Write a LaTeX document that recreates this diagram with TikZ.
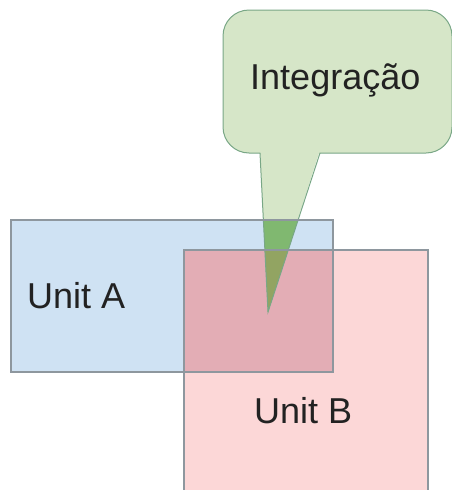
\documentclass[tikz,border=0pt]{standalone}
\usepackage{fontspec}
\setmainfont{Liberation Sans}
\definecolor{unitblue}{HTML}{CFE2F3}
\definecolor{unitpink}{HTML}{FCD7D7}
\definecolor{bothpink}{HTML}{E3ADB5}
\definecolor{bubblegreen}{HTML}{D6E6C8}
\definecolor{tailgreen}{HTML}{80B870}
\definecolor{tailolive}{HTML}{92A462}
\definecolor{edgegray}{HTML}{8E979E}
\definecolor{textgray}{HTML}{222222}
\tikzset{
  unitedge/.style={draw=edgegray, line width=1.1pt},
  unitlabel/.style={anchor=base west, inner sep=0pt, text=textgray,
    font=\fontsize{36}{40}\selectfont},
}
\begin{document}
\begin{tikzpicture}[x=1pt,y=-1pt]
	\useasboundingbox (0,0) rectangle (451,490) ;
	% filled areas
	\fill[unitblue] (11,220) rectangle (333,372) ;
	\fill[unitpink] (184,250) rectangle (428,495) ;
	\fill[bothpink] (184,250) rectangle (333,372) ;
	% speech bubble
	\fill[bubblegreen, rounded corners=26] (223,10) rectangle (452,153) ;
	\fill[bubblegreen] (260,150) -- (268,312) -- (320,150) -- cycle ;
	\begin{scope}
		\clip (268,312) -- (320,153) -- (260,153) -- cycle ;
		\fill[tailgreen] (11,220) rectangle (333,372) ;
		\fill[tailolive] (184,250) rectangle (333,372) ;
	\end{scope}
	\draw[draw=edgegray!85!green, line width=1pt]
		(260,153) -- (268,312) -- (320,153) [rounded corners=26] -- (452,153)
		-- (452,10) -- (223,10) -- (223,153) -- (260,153) ;
	% outlines
	\draw[unitedge] (11,220) rectangle (333,372) ;
	\draw[unitedge] (184,250) rectangle (428,495) ;
	% texts
	\node (integ)[unitlabel] at (250,89) {Integração} ;
	\node (unitA)[unitlabel] at (27,308) {Unit A} ;
	\node (unitB)[unitlabel] at (254,423) {Unit B} ;
\end{tikzpicture}
\end{document}
